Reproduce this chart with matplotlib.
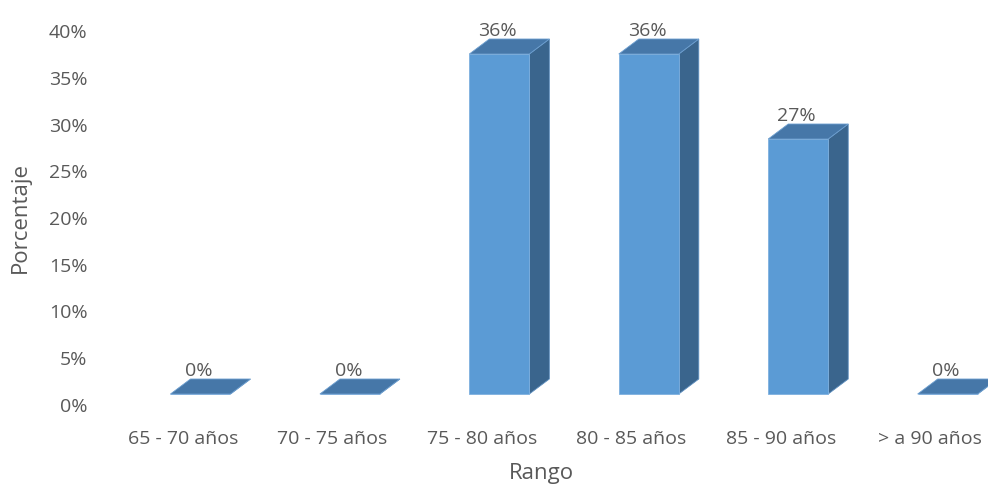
import numpy as np
import matplotlib.pyplot as plt
from matplotlib.patches import Polygon
from matplotlib.transforms import offset_copy

# data
categorias = ['65 - 70 años', '70 - 75 años', '75 - 80 años', '80 - 85 años', '85 - 90 años', '> a 90 años']
porcentajes = [0.0, 0.0, 4 / 11, 4 / 11, 3 / 11, 0.0]
etiquetas = ['0%', '0%', '36%', '36%', '27%', '0%']
yticks = [0, 0.05, 0.10, 0.15, 0.20, 0.25, 0.30, 0.35, 0.40]

plt.rcParams['font.family'] = ['Open Sans', 'DejaVu Sans']
gris = '#595959'
c_front = '#5B9BD5'
c_top = '#4677A8'
c_side = '#3A658D'

fig = plt.figure(figsize=(9.88, 4.89), dpi=100)
W, H = 988, 489
L, R = 108.25, 975.0
ax = fig.add_axes([L / W, 84 / H, (R - L) / W, 374 / H])
ax.set_xlim(-0.5, 5.3)
ax.set_ylim(0, 0.40)

px_x = (R - L) / 5.8          # pixels per category unit
px_y = 374 / 0.40             # pixels per y unit
w = 60 / px_x                 # front face width
shift = 17.5 / px_x           # bars sit slightly right of the label
ddx = 20 / px_x               # depth offset x
ddy = 15 / px_y               # depth offset y
tr = offset_copy(ax.transData, fig=fig, x=0, y=10, units='dots')

for i, v in enumerate(porcentajes):
    x0 = i + shift - w / 2
    x1 = x0 + w
    side = Polygon([(x1, 0), (x1 + ddx, ddy), (x1 + ddx, v + ddy), (x1, v)],
                   closed=True, facecolor=c_side, edgecolor='#5E8FBF', lw=0.6,
                   transform=tr, clip_on=False)
    top = Polygon([(x0, v), (x1, v), (x1 + ddx, v + ddy), (x0 + ddx, v + ddy)],
                  closed=True, facecolor=c_top, edgecolor='#6D9FD0', lw=0.6,
                  transform=tr, clip_on=False)
    front = Polygon([(x0, 0), (x1, 0), (x1, v), (x0, v)],
                    closed=True, facecolor=c_front, edgecolor='#7EB0DF', lw=0.6,
                    transform=tr, clip_on=False)
    ax.add_patch(side)
    ax.add_patch(front)
    ax.add_patch(top)
    ax.annotate(etiquetas[i], xy=(i + shift - 0.01, v), xytext=(0, 25),
                textcoords='offset pixels', ha='center', va='bottom',
                fontsize=14, color=gris, annotation_clip=False)

ax.set_xticks(range(len(categorias)))
ax.set_xticklabels(categorias)
ax.set_yticks(yticks)
ax.set_yticklabels([f'{int(round(t * 100))}%' for t in yticks])
ax.tick_params(axis='both', length=0, labelsize=14, labelcolor=gris)
ax.tick_params(axis='x', pad=18)
ax.tick_params(axis='y', pad=15)
for s in ax.spines.values():
    s.set_visible(False)

ax.set_xlabel('Rango', fontsize=16, color=gris, labelpad=11)
ax.set_ylabel('Porcentaje', fontsize=16, color=gris, labelpad=13)

fig.savefig('out.png', dpi=100)
